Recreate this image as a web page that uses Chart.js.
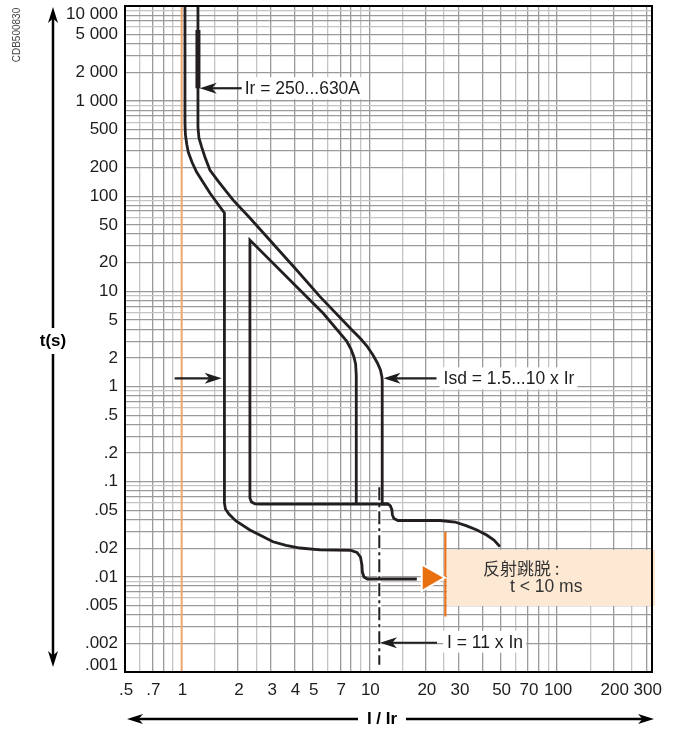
<!DOCTYPE html>
<html><head><meta charset="utf-8">
<script src="https://cdn.jsdelivr.net/npm/chart.js@4"></script>
<style>html,body{margin:0;padding:0;background:#fff;}canvas{display:block}</style>
</head><body>
<canvas id="c" width="681" height="729"></canvas>
<script>
// ---------------- data (I/Ir on x, t in seconds on y) ----------------
const xTickLabels = [0.5,0.7,1,2,3,4,5,7,10,20,30,50,70,100,200,300];
const yTickLabels = [10000,5000,2000,1000,500,200,100,50,20,10,5,2,1,0.5,0.2,0.1,0.05,0.02,0.01,0.005,0.002,0.001];
const xGridValues = [0.6,0.7,0.8,0.9,1,1.5,2,2.5,3,4,5,6,7,8,9,10,15,20,25,30,40,50,60,70,80,90,100,150,200,250,300];
const yGridMantissas = [1,2,3,4,5,6,7,8,9];
const yGridDecades = [0.001,0.01,0.1,1,10,100,1000];

// lower (fast) tripping curve
const curveLowI = [1.043,1.043,1.049,1.068,1.086,1.136,1.203,1.300,1.416,1.544,1.692,1.692,1.713,1.788,1.948,2.313,3.07,3.60,4.27,5.46,7.98,8.59,8.97,9.13,9.18,9.36,9.77,17.9];
const curveLowT = [10000,590,441,346,292,229,180,141.4,108.4,85.5,66.8,0.0598,0.0517,0.0458,0.0387,0.0311,0.0234,0.0214,0.0201,0.0192,0.01894,0.01804,0.01618,0.01334,0.01125,0.00997,0.0095,0.0095];
// upper (slow) tripping curve
const curveHighI = [1.223,1.223,1.238,1.279,1.332,1.416,1.563,1.738,1.879,2.313,4.10,5.46,8.08,8.91,9.71,10.45,11.04,11.46,11.67,11.71,11.71,12.56,12.95,13.19,13.27,13.52,14.2,23.8,28.6,33.0,37.4,42.1,46.1,49.6];
const curveHighT = [10000,535,410,330,259,189,145,111,91.5,59.2,16.8,8.81,3.94,3.24,2.67,2.148,1.771,1.494,1.262,1.15,0.0583,0.0583,0.0556,0.0505,0.0447,0.0411,0.0391,0.0391,0.0377,0.0343,0.0311,0.02756,0.0244,0.0208];
// inner short-time setting curve
const curveSdI = [8.54,8.52,8.45,8.28,7.98,7.57,5.68,4.10,2.313,2.313,2.356,2.46,2.615,12.56];
const curveSdT = [0.0583,1.324,1.728,2.047,2.484,3.015,5.89,11.2,34.7,0.0675,0.0612,0.0586,0.0583,0.0583];
// Ir adjustment range bar
const irBarI = [1.223,1.223];
const irBarT = [5600,1366];
// reference line I/Ir = 1
const refI = [1,1];
const refT = [0.001,10000];
// instantaneous (reflex) marker
const reflexLineI = [25.4,25.4];
const reflexLineT = [0.0298,0.00382];
const reflexPointI = [20.9];
const reflexPointT = [0.0098];
const reflexBoxI = [25.9];
const reflexBoxT = [0.0192,0.00494];
// I = 11 x In dash-dot line
const instI = [11.3,11.3];
const instT = [0.0877,0.00119];
// arrow tips [I, t]
const arrowIr = [1.25,1366];
const arrowIsdMin = [1.635,1.222];
const arrowIsd = [11.9,1.222];
const arrowInst = [11.4,0.00203];

const labelIr = 'Ir = 250...630A';
const labelIsd = 'Isd = 1.5...10 x Ir';
const labelInst = 'I = 11 x In';
const reflexText1 = '反射跳脱 :';
const reflexText2 = 't < 10 ms';

// ---------------- helpers ----------------
const pts = (xs, ys) => xs.map((v,i)=>({x:v,y:ys[i]}));
const yGridValues = [];
yGridDecades.forEach(d => yGridMantissas.forEach(m => { const v = +(d*m).toPrecision(6); if (v>0.001) yGridValues.push(v); }));
yGridValues.push(1000);

function fmtY(v){
  if (v>=1000) return String(v).replace(/\B(?=(\d{3})+(?!\d))/g,' ');
  if (v<1) return String(v).replace(/^0/,'');
  return String(v);
}
function fmtX(v){ return v<1 ? String(v).replace(/^0/,'') : String(v); }

function drawArrow(ctx, tipX, tipY, tailX, tailY, headLen, headHalf, lw){
  const a = Math.atan2(tipY-tailY, tipX-tailX), c=Math.cos(a), s=Math.sin(a);
  ctx.beginPath(); ctx.moveTo(tailX,tailY); ctx.lineTo(tipX-c*headLen*0.7, tipY-s*headLen*0.7);
  ctx.lineWidth = lw; ctx.stroke();
  ctx.beginPath();
  ctx.moveTo(tipX,tipY);
  ctx.lineTo(tipX-c*headLen - s*headHalf, tipY-s*headLen + c*headHalf);
  ctx.lineTo(tipX-c*headLen*0.72, tipY-s*headLen*0.72);
  ctx.lineTo(tipX-c*headLen + s*headHalf, tipY-s*headLen - c*headHalf);
  ctx.closePath(); ctx.fill();
}

const TXT = '#1d1d1d';
const FONT = '"Liberation Sans", Arial, Helvetica, sans-serif';

const decor = {
  id:'decor',
  beforeDatasetsDraw(chart){
    const {ctx, scales:{x,y}, chartArea:a} = chart;
    ctx.save();
    // reflex box
    const bx = x.getPixelForValue(reflexBoxI[0]);
    const by0 = y.getPixelForValue(reflexBoxT[0]), by1 = y.getPixelForValue(reflexBoxT[1]);
    ctx.fillStyle = '#fce8d3';
    ctx.fillRect(bx, by0, a.right+3-bx, by1-by0);
    // dash-dot line with white halo
    const dx = x.getPixelForValue(instI[0]);
    const dy0 = y.getPixelForValue(instT[0]), dy1 = y.getPixelForValue(instT[1]);
    ctx.strokeStyle = '#fff'; ctx.lineWidth = 4;
    ctx.beginPath(); ctx.moveTo(dx,dy0); ctx.lineTo(dx,dy1); ctx.stroke();
    ctx.strokeStyle = '#231f20'; ctx.lineWidth = 2; ctx.setLineDash([13,4,3,4]);
    ctx.beginPath(); ctx.moveTo(dx,dy0); ctx.lineTo(dx,dy1); ctx.stroke();
    ctx.setLineDash([]);
    ctx.restore();
  },
  afterDatasetsDraw(chart){
    const {ctx, scales:{x,y}, chartArea:a} = chart;
    ctx.save();
    // frame
    ctx.strokeStyle = '#000'; ctx.lineWidth = 2;
    ctx.strokeRect(a.left, a.top, a.right-a.left, a.bottom-a.top);

    ctx.fillStyle = TXT; ctx.strokeStyle = '#231f20';
    // tick labels
    ctx.font = '17px '+FONT;
    ctx.textAlign = 'right'; ctx.textBaseline = 'middle';
    yTickLabels.forEach(v => {
      let py = y.getPixelForValue(v);
      py = Math.max(a.top+8, Math.min(a.bottom-7, py));
      ctx.fillText(fmtY(v), a.left-7, py);
    });
    ctx.textAlign = 'center';
    xTickLabels.forEach(v => {
      ctx.fillText(fmtX(v), x.getPixelForValue(v)+1, a.bottom+18);
    });

    // annotation labels with white background
    ctx.font = '17.5px '+FONT;
    ctx.textAlign = 'left';
    const label = (text, tx, ty, padL, padR) => {
      const w = ctx.measureText(text).width;
      ctx.fillStyle = '#fff'; ctx.fillRect(tx-padL, ty-11, w+padL+padR, 22);
      ctx.fillStyle = TXT; ctx.fillText(text, tx, ty+1);
    };
    ctx.fillStyle = TXT;
    let tx = x.getPixelForValue(arrowIr[0]), ty = y.getPixelForValue(arrowIr[1]);
    label(labelIr, tx+45, ty, 3, 3);
    drawArrow(ctx, tx, ty, tx+42, ty, 17, 5.5, 2.2);
    tx = x.getPixelForValue(arrowIsdMin[0]); ty = y.getPixelForValue(arrowIsdMin[1]);
    drawArrow(ctx, tx, ty, tx-47, ty, 17, 5.5, 2.2);
    tx = x.getPixelForValue(arrowIsd[0]); ty = y.getPixelForValue(arrowIsd[1]);
    label(labelIsd, tx+60, ty, 4, 3);
    drawArrow(ctx, tx, ty, tx+53, ty, 17, 5.5, 2.2);
    tx = x.getPixelForValue(arrowInst[0]); ty = y.getPixelForValue(arrowInst[1]);
    label(labelInst, tx+67, ty-1, 4, 3);
    drawArrow(ctx, tx, ty, tx+57, ty, 17, 5.5, 2.2);

    // reflex box text
    const bx = x.getPixelForValue(reflexBoxI[0]);
    const by0 = y.getPixelForValue(reflexBoxT[0]);
    ctx.fillStyle = '#333';
    ctx.font = '17px "Noto Sans CJK SC", sans-serif';
    ctx.fillText(reflexText1, bx+36, by0+19);
    ctx.font = '17.5px '+FONT;
    ctx.fillText(reflexText2, bx+63, by0+37);

    // outer axis arrows
    ctx.fillStyle = '#000'; ctx.strokeStyle = '#000';
    const ax = 53, midY = 341;
    drawArrow(ctx, ax, 7, ax, midY-13, 16, 5, 2.5);
    drawArrow(ctx, ax, 667, ax, midY+13, 16, 5, 2.5);
    ctx.font = 'bold 17px '+FONT; ctx.textAlign='center'; ctx.textBaseline='middle';
    ctx.fillText('t(s)', ax, midY);
    const ay = 719, midX = 382;
    drawArrow(ctx, 127, ay, midX-24, ay, 16, 5, 2.5);
    drawArrow(ctx, 654, ay, midX+24, ay, 16, 5, 2.5);
    ctx.fillText('I / Ir', midX, ay);

    // document code
    ctx.save();
    ctx.translate(17, 35); ctx.rotate(-Math.PI/2);
    ctx.font = '10px '+FONT; ctx.fillStyle = '#444';
    ctx.fillText('CDB500830', 0, 0);
    ctx.restore();
    ctx.restore();
  }
};

const gridColor = v => {
  const m = +(v / Math.pow(10, Math.floor(Math.log10(v)+1e-9))).toFixed(3);
  return (m===1.5 || m===2.5 || m===6 || m===9) ? '#c4c4c4' : '#9a9a9a';
};

new Chart(document.getElementById('c'), {
  type:'scatter',
  data:{ datasets:[
    {data:pts(curveLowI,curveLowT), showLine:true, borderColor:'#231f20', borderWidth:2.8, pointRadius:0, tension:0, order:1},
    {data:pts(curveHighI,curveHighT), showLine:true, borderColor:'#231f20', borderWidth:2.8, pointRadius:0, tension:0, order:1},
    {data:pts(curveSdI,curveSdT), showLine:true, borderColor:'#231f20', borderWidth:2.8, pointRadius:0, tension:0, order:1},
    {data:pts(irBarI,irBarT), showLine:true, borderColor:'#231f20', borderWidth:5, pointRadius:0, order:0},
    {data:pts(reflexLineI,reflexLineT), showLine:true, borderColor:'#e8731a', borderWidth:2.2, pointRadius:0, order:2},
    {data:pts(reflexPointI,reflexPointT), showLine:false, pointStyle:'triangle', rotation:90, pointRadius:15.5,
      backgroundColor:'#e8700e', borderColor:'#ffffff', borderWidth:2, order:0},
    {data:pts(refI,refT), showLine:true, borderColor:'#f2a566', borderWidth:1.8, pointRadius:0, order:5}
  ]},
  options:{
    responsive:false, animation:false, devicePixelRatio:1,
    layout:{autoPadding:false, padding:{left:125,right:29,top:6,bottom:57}},
    plugins:{legend:{display:false}, tooltip:{enabled:false}},
    scales:{
      x:{type:'logarithmic', min:0.5, max:320, position:'bottom',
        border:{display:false},
        grid:{drawTicks:false, lineWidth:1.3, color:c => gridColor(c.tick.value)},
        ticks:{display:false},
        afterBuildTicks: s => { s.ticks = xGridValues.map(v=>({value:v})); }
      },
      y:{type:'logarithmic', min:0.001, max:10000, position:'left',
        border:{display:false},
        grid:{drawTicks:false, lineWidth:1.3, color:c => gridColor(c.tick.value)},
        ticks:{display:false},
        afterBuildTicks: s => { s.ticks = yGridValues.map(v=>({value:v})); }
      }
    }
  },
  plugins:[decor]
});
</script>
</body></html>
